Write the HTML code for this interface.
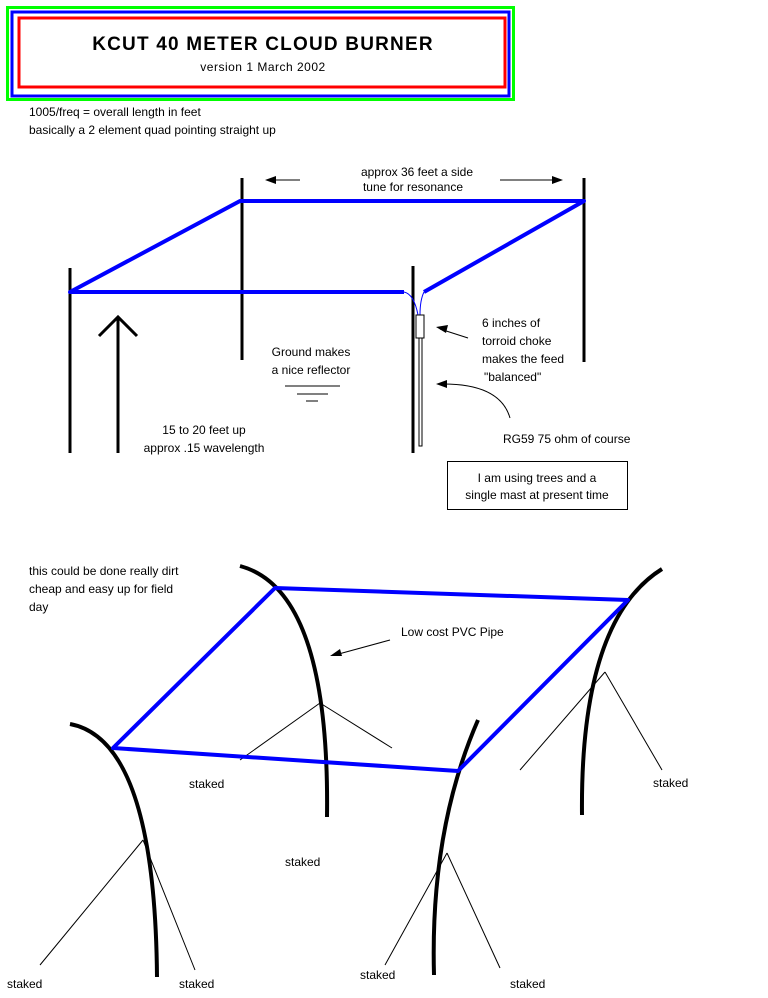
<!DOCTYPE html>
<html><head><style>body{margin:0;background:#fff}svg{display:block}text{font-family:"Liberation Sans",sans-serif;font-size:12px;fill:#000}</style></head><body>
<svg width="768" height="998" viewBox="0 0 768 998">
<rect x="7.5" y="7.5" width="506" height="92" fill="none" stroke="#0f0" stroke-width="3"/>
<rect x="12" y="12" width="497" height="84" fill="none" stroke="#00f" stroke-width="3"/>
<rect x="19" y="18" width="486" height="69" fill="none" stroke="#f00" stroke-width="3"/>
<text x="263" y="50" text-anchor="middle" style="font-size:19px;font-weight:bold;letter-spacing:1.2px">KCUT 40 METER CLOUD BURNER</text>
<text x="263" y="71" text-anchor="middle" style="letter-spacing:0.5px">version 1 March 2002</text>
<text x="29" y="116">1005/freq = overall length in feet</text>
<text x="29" y="134">basically a 2 element quad pointing straight up</text>
<g stroke="#000" stroke-width="3">
<line x1="70" y1="268" x2="70" y2="453"/><line x1="242" y1="178" x2="242" y2="360"/>
<line x1="413" y1="266" x2="413" y2="453"/><line x1="584" y1="178" x2="584" y2="362"/>
<line x1="118" y1="453" x2="118" y2="318"/><polyline points="99,336 118,317 137,336" fill="none"/>
</g>
<g stroke="#00f" stroke-width="4" fill="none" stroke-linejoin="round">
<polyline points="404,292 70,292 240,201 584,201 424,292"/>
</g>
<path d="M404,292 Q414,294 418,315 M424,292 Q420,300 420,315" stroke="#00f" stroke-width="1" fill="none"/>
<rect x="416" y="315" width="8" height="23" fill="#fff" stroke="#000"/>
<rect x="419" y="338" width="3" height="108" fill="#fff" stroke="#000"/>
<g stroke="#000" stroke-width="1" fill="none">
<line x1="300" y1="180" x2="268" y2="180"/><line x1="500" y1="180" x2="560" y2="180"/>
<line x1="285" y1="386" x2="340" y2="386"/><line x1="297" y1="394" x2="328" y2="394"/><line x1="306" y1="401" x2="318" y2="401"/>
<line x1="468" y1="338" x2="440" y2="329"/>
<path d="M510,418 Q500,383 440,384"/>
<line x1="390" y1="640" x2="335" y2="655"/>
<path d="M320,703 L392,748 M320,703 L240,760 M605,672 L520,770 M605,672 L662,770 M143,840 L40,965 M143,840 L195,970 M447,853 L385,965 M447,853 L500,968"/>
</g>
<g fill="#000">
<polygon points="265,180 276,176 276,184"/><polygon points="563,180 552,176 552,184"/>
<polygon points="436,327 448,325 446,333"/><polygon points="436,384 447,380 447,388"/>
<polygon points="330,656 340,649 342,656"/>
</g>
<text x="417" y="176" text-anchor="middle">approx 36 feet a side</text>
<text x="413" y="191" text-anchor="middle">tune for resonance</text>
<text x="311" y="356" text-anchor="middle">Ground makes</text>
<text x="311" y="374" text-anchor="middle">a nice reflector</text>
<text x="204" y="434" text-anchor="middle">15 to 20 feet up</text>
<text x="204" y="452" text-anchor="middle">approx .15 wavelength</text>
<text x="482" y="327">6 inches of</text>
<text x="482" y="345">torroid choke</text>
<text x="482" y="363">makes the feed</text>
<text x="484" y="381">"balanced"</text>
<text x="503" y="443">RG59 75 ohm of course</text>
<rect x="447.5" y="461.5" width="180" height="48" fill="none" stroke="#000"/>
<text x="537" y="482" text-anchor="middle">I am using trees and a</text>
<text x="537" y="499" text-anchor="middle">single mast at present time</text>
<text x="29" y="575">this could be done really dirt</text>
<text x="29" y="593">cheap and easy up for field</text>
<text x="29" y="611">day</text>
<text x="401" y="636">Low cost PVC Pipe</text>
<g stroke="#000" stroke-width="4" fill="none">
<path d="M240,566 Q330,590 327,817"/>
<path d="M70,724 Q155,740 157,977"/>
<path d="M478,720 Q430,830 434,975"/>
<path d="M662,569 Q580,620 582,815"/>
</g>
<polygon points="113,748 275,588 628,600 458,771" fill="none" stroke="#00f" stroke-width="4" stroke-linejoin="round"/>
<text x="189" y="788">staked</text>
<text x="653" y="787">staked</text>
<text x="285" y="866">staked</text>
<text x="7" y="988">staked</text>
<text x="179" y="988">staked</text>
<text x="360" y="979">staked</text>
<text x="510" y="988">staked</text>
</svg>
</body></html>
